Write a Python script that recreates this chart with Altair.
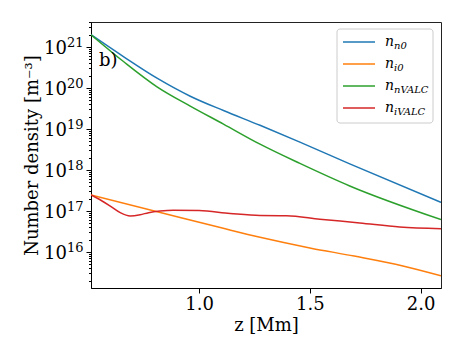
import altair as alt
import pandas as pd

# ---- data (z in Mm, log10 of number density in m^-3) ----
SERIES = ["n_n0", "n_i0", "n_nVALC", "n_iVALC"]
COLORS = ["#1f77b4", "#ff7f0e", "#2ca02c", "#d62728"]
LEGEND_SUBS = ["n0", "i0", "nVALC", "iVALC"]

z_nn0 = [0.512, 0.66, 0.81, 0.96, 1.11, 1.275, 1.455, 1.68, 2.092]
log_nn0 = [21.30, 20.76, 20.24, 19.80, 19.45, 19.09, 18.68, 18.15, 17.21]

z_ni0 = [0.512, 0.914, 1.10, 1.275, 1.50, 1.70, 1.92, 2.092]
log_ni0 = [17.39, 16.84, 16.59, 16.36, 16.10, 15.90, 15.66, 15.42]

z_nnV = [0.512, 0.66, 0.81, 0.96, 1.11, 1.275, 1.455, 1.68, 2.092]
log_nnV = [21.30, 20.64, 20.03, 19.56, 19.12, 18.63, 18.16, 17.61, 16.79]

z_niV = [0.512, 0.56, 0.599, 0.644, 0.689, 0.734, 0.772, 0.824, 0.883, 1.0, 1.14,
         1.275, 1.395, 1.545, 1.725, 1.905, 2.092]
log_niV = [17.39, 17.25, 17.12, 16.96, 16.88, 16.91, 16.96, 17.00, 17.02, 17.01, 16.94,
           16.89, 16.885, 16.80, 16.71, 16.61, 16.57]

X_DOMAIN = [0.512, 2.092]
Y_DOMAIN = [10 ** 15.122, 10 ** 21.61]
X_TICKS = [1.0, 1.5, 2.0]
MAJOR_EXP = [16, 17, 18, 19, 20, 21]

rows = []
for name, zs, ls in [("n_n0", z_nn0, log_nn0), ("n_i0", z_ni0, log_ni0),
                     ("n_nVALC", z_nnV, log_nnV), ("n_iVALC", z_niV, log_niV)]:
    for i, (z, l) in enumerate(zip(zs, ls)):
        rows.append({"series": name, "z": z, "n": 10 ** l, "order": i})
df = pd.DataFrame(rows)

# ---- y ticks: major decades + matplotlib-like minor ticks ----
y_ticks = []
for k in range(15, 22):
    for m in range(1, 10):
        v = m * 10.0 ** k
        if Y_DOMAIN[0] <= v <= Y_DOMAIN[1]:
            y_ticks.append(v)
major_test = "abs(log(datum.value)/LN10 - round(log(datum.value)/LN10)) < 1e-6"

FONT = "DejaVu Serif"
W, H = 350, 266

x_enc = alt.X("z:Q", scale=alt.Scale(domain=X_DOMAIN, nice=False, zero=False),
              axis=alt.Axis(values=X_TICKS, format=".1f", title="z [Mm]", grid=False,
                            tickSize=5, tickColor="black", domainColor="black",
                            labelFont=FONT, labelFontSize=18, labelColor="black",
                            labelPadding=2, titleFont=FONT, titleFontSize=18,
                            titleFontWeight="normal", titleColor="black", titlePadding=3,
                            labelFlush=False))
y_scale = alt.Scale(type="log", domain=Y_DOMAIN, nice=False)
y_enc = alt.Y("n:Q", scale=y_scale,
              axis=alt.Axis(values=y_ticks, labels=False, title="Number density [m⁻³]",
                            grid=False,
                            tickSize={"condition": {"test": major_test, "value": 5}, "value": 2.5},
                            tickColor="black", domainColor="black",
                            titleFont=FONT, titleFontSize=18,
                            titleFontWeight="normal", titleColor="black", titlePadding=44))

lines = alt.Chart(df).mark_line(strokeWidth=1.5, clip=True, interpolate="monotone").encode(
    x=x_enc,
    y=y_enc,
    color=alt.Color("series:N", scale=alt.Scale(domain=SERIES, range=COLORS), legend=None),
    order="order:Q",
    detail="series:N",
)

# ---- y tick labels "10" with a raised exponent ----
lab = pd.DataFrame({"n": [10.0 ** k for k in MAJOR_EXP],
                    "base": ["10"] * len(MAJOR_EXP),
                    "exp": [str(k) for k in MAJOR_EXP]})
base_txt = alt.Chart(lab).mark_text(
    font=FONT, fontSize=18, align="right", baseline="alphabetic", dy=7, color="black"
).encode(x=alt.value(-24), y=alt.Y("n:Q", scale=y_scale), text="base:N")
exp_txt = alt.Chart(lab).mark_text(
    font=FONT, fontSize=13, align="left", baseline="alphabetic", dy=0, color="black"
).encode(x=alt.value(-24), y=alt.Y("n:Q", scale=y_scale), text="exp:N")

panel_label = alt.Chart(pd.DataFrame({"t": ["b)"]})).mark_text(
    font=FONT, fontSize=18, align="left", baseline="alphabetic", color="black"
).encode(x=alt.value(8), y=alt.value(44), text="t:N")

# ---- legend box (custom, to render subscripts) ----
layers = [lines, base_txt, exp_txt, panel_label]
layers.append(alt.Chart(pd.DataFrame({"a": [0]})).mark_rect(
    fill="white", fillOpacity=0.8, stroke="#cccccc", strokeWidth=1, cornerRadius=3
).encode(x=alt.value(246), x2=alt.value(342), y=alt.value(7), y2=alt.value(101)))

row_y = [20, 42, 64, 86]
for name, col, sub, yc in zip(SERIES, COLORS, LEGEND_SUBS, row_y):
    d = pd.DataFrame({"main": ["n"], "sub": [sub]})
    layers.append(alt.Chart(d).mark_rule(color=col, strokeWidth=1.5).encode(
        x=alt.value(252), x2=alt.value(284), y=alt.value(yc)))
    layers.append(alt.Chart(d).mark_text(
        font=FONT, fontSize=14, fontStyle="italic", align="left", baseline="alphabetic",
        color="black").encode(x=alt.value(294), y=alt.value(yc + 4), text="main:N"))
    layers.append(alt.Chart(d).mark_text(
        font=FONT, fontSize=10, fontStyle="italic", align="left", baseline="alphabetic",
        color="black").encode(x=alt.value(303), y=alt.value(yc + 7), text="sub:N"))

chart = alt.layer(*layers).properties(
    width=W, height=H,
    autosize=alt.AutoSizeParams(type="none"),
    padding={"left": 83, "top": 14, "right": 14, "bottom": 52},
).configure_view(stroke="#222222", strokeWidth=1)

chart.save("out.html", embed_options={"renderer": "svg", "actions": False})
